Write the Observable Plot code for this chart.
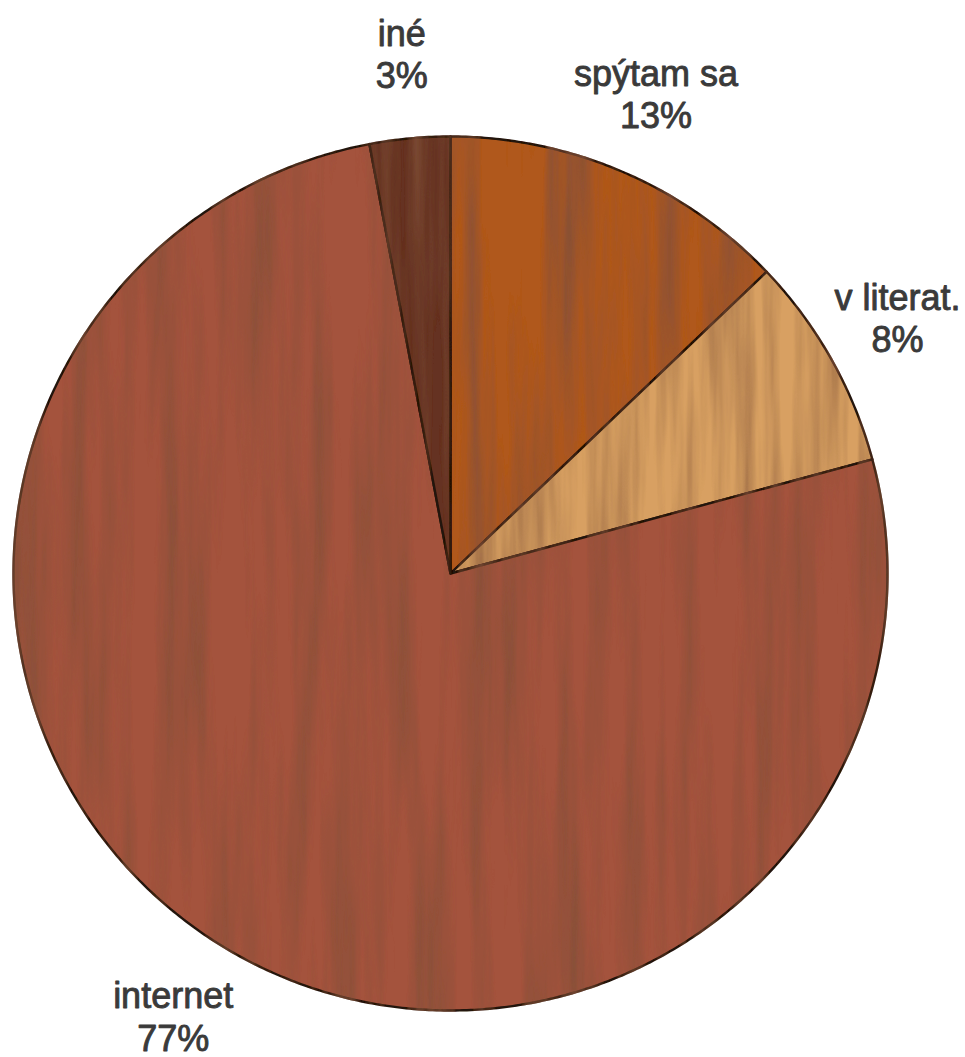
<!DOCTYPE html>
<html>
<head>
<meta charset="utf-8">
<script src="https://cdn.jsdelivr.net/npm/d3@7"></script>
<script src="https://cdn.jsdelivr.net/npm/@observablehq/plot@0.6"></script>
<style>
  html, body { margin: 0; padding: 0; background: #ffffff; }
  #chart { width: 965px; height: 1057px; }
</style>
</head>
<body>
<div id="chart"></div>
<script>
// ---- data ----
const categories = ["spýtam sa", "v literat.", "internet", "iné"];
const shares = [13, 8, 77, 3];           // percent, clockwise from 12 o'clock
const woodColors = ["#b0591c", "#d8a062", "#a4533d", "#653120"];

// ---- layout ----
const W = 965, H = 1057;
const cx = 450, cy = 573, R = 437;
const labelRadius = 1.195;
const labelHalfWidth = 68;   // keep label blocks inside the page

const data = categories.map((c, i) => ({label: c, value: shares[i]}));
const arcs = d3.pie().sort(null).value(d => d.value)(data);

// polygon outline of each slice, derived from the pie angles
const points = [];
arcs.forEach(a => {
  const lab = a.data.label;
  points.push({label: lab, x: 0, y: 0});
  const n = Math.max(4, Math.ceil((a.endAngle - a.startAngle) / (Math.PI / 360)));
  for (let k = 0; k <= n; k++) {
    const t = a.startAngle + (a.endAngle - a.startAngle) * k / n;
    points.push({label: lab, x: Math.sin(t), y: Math.cos(t)});
  }
});

const xMax = (W - labelHalfWidth - cx) / R;
const labels = arcs.map(a => {
  const m = (a.startAngle + a.endAngle) / 2;
  return {
    text: `${a.data.label}\n${a.data.value}%`,
    x: Math.min(xMax, labelRadius * Math.sin(m)),
    y: labelRadius * Math.cos(m)
  };
});

const plot = Plot.plot({
  width: W,
  height: H,
  margin: 0,
  style: {background: "#ffffff", overflow: "visible"},
  x: {domain: [-cx / R, (W - cx) / R], axis: null},
  y: {domain: [-(H - cy) / R, cy / R], axis: null},
  color: {domain: categories, range: woodColors},
  marks: [
    Plot.line(points, {
      x: "x", y: "y", z: "label",
      fill: "label",
      stroke: "#24140c",
      strokeWidth: 2.4,
      curve: "linear-closed",
      className: "slices"
    }),
    Plot.text(labels, {
      x: "x", y: "y", text: "text",
      fontSize: 36,
      lineHeight: 1.17,
      fontFamily: "Liberation Sans, Arial, sans-serif",
      fill: "#3a3a3a",
      stroke: "#3a3a3a",
      strokeWidth: 0.9,
      textAnchor: "middle"
    })
  ]
});

// wood-grain texture via SVG filter (deterministic turbulence)
const svg = d3.select(plot);
const defs = svg.insert("defs", ":first-child");
const f = defs.append("filter").attr("id", "wood")
  .attr("filterUnits", "userSpaceOnUse")
  .attr("x", 0).attr("y", 0).attr("width", W).attr("height", H);
f.append("feTurbulence").attr("type", "fractalNoise")
  .attr("baseFrequency", "0.045 0.0025").attr("numOctaves", 4).attr("seed", 11)
  .attr("result", "noise");
f.append("feColorMatrix").attr("in", "noise").attr("type", "matrix")
  .attr("values", "0 0 0 0 0.22  0 0 0 0 0.08  0 0 0 0 0.04  1.6 0 0 0 -0.62")
  .attr("result", "grain");
f.append("feComposite").attr("in", "grain").attr("in2", "SourceAlpha")
  .attr("operator", "in").attr("result", "grainClip");
const merge = f.append("feMerge");
merge.append("feMergeNode").attr("in", "SourceGraphic");
merge.append("feMergeNode").attr("in", "grainClip");
svg.selectAll("g.slices path").attr("filter", "url(#wood)");

document.getElementById("chart").appendChild(plot);
</script>
</body>
</html>
